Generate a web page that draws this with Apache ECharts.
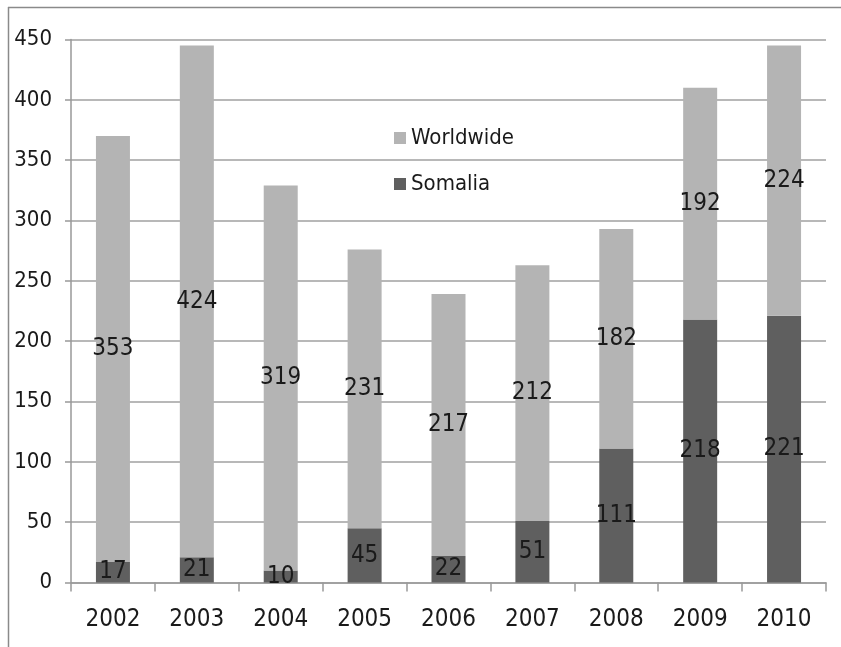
<!DOCTYPE html>
<html>
<head>
<meta charset="utf-8">
<script src="https://cdn.jsdelivr.net/npm/echarts@6/dist/echarts.min.js"></script>
<style>
html,body{margin:0;padding:0;background:#fff;}
#chart{width:841px;height:647px;}
</style>
</head>
<body>
<div id="chart"></div>
<script>
const years = ['2002','2003','2004','2005','2006','2007','2008','2009','2010'];
const somalia = [17, 21, 10, 45, 22, 51, 111, 218, 221];
const worldwide = [353, 424, 319, 231, 217, 212, 182, 192, 224];
const yTicks = {min: 0, max: 450, interval: 50};

const FONT = '"Liberation Sans Narrow", "DejaVu Sans Condensed", "Liberation Sans", sans-serif';
const chart = echarts.init(document.getElementById('chart'), null, {renderer: 'canvas'});
chart.setOption({
  animation: false,
  backgroundColor: '#ffffff',
  textStyle: {fontFamily: FONT},
  graphic: [
    {type: 'line', shape: {x1: 8, y1: 7.5, x2: 841, y2: 7.5}, style: {stroke: '#8a8a8a', lineWidth: 1.5}},
    {type: 'line', shape: {x1: 8.5, y1: 7, x2: 8.5, y2: 647}, style: {stroke: '#8a8a8a', lineWidth: 1.5}}
  ],
  grid: {left: 71, right: 15, top: 39.5, bottom: 64.5, containLabel: false},
  legend: {
    orient: 'vertical',
    left: 389,
    top: 122,
    itemWidth: 12,
    itemHeight: 12,
    itemGap: 24,
    icon: 'rect',
    data: ['Worldwide', 'Somalia'],
    textStyle: {fontFamily: FONT, fontSize: 22, color: '#1a1a1a'}
  },
  xAxis: {
    type: 'category',
    data: years,
    axisLine: {show: true, lineStyle: {color: '#999', width: 1.5}},
    axisTick: {show: true, length: 9, lineStyle: {color: '#999', width: 1.5}},
    axisLabel: {fontFamily: FONT, fontSize: 24, color: '#1a1a1a', margin: 25}
  },
  yAxis: {
    type: 'value',
    min: yTicks.min,
    max: yTicks.max,
    interval: yTicks.interval,
    axisLine: {show: true, lineStyle: {color: '#999', width: 1.5}},
    axisTick: {show: true, length: 6, lineStyle: {color: '#999', width: 1.5}},
    axisLabel: {fontFamily: FONT, fontSize: 22, color: '#1a1a1a', margin: 19},
    splitLine: {show: true, lineStyle: {color: '#a0a0a0', width: 1.5}}
  },
  series: [
    {
      name: 'Somalia',
      type: 'bar',
      stack: 'total',
      barWidth: 34,
      data: somalia,
      itemStyle: {color: '#5f5f5f'},
      label: {show: true, position: 'inside', fontFamily: FONT, fontSize: 24, color: '#1a1a1a'}
    },
    {
      name: 'Worldwide',
      type: 'bar',
      stack: 'total',
      barWidth: 34,
      data: worldwide,
      itemStyle: {color: '#b4b4b4'},
      label: {show: true, position: 'inside', fontFamily: FONT, fontSize: 24, color: '#1a1a1a'}
    }
  ]
});
</script>
</body>
</html>
